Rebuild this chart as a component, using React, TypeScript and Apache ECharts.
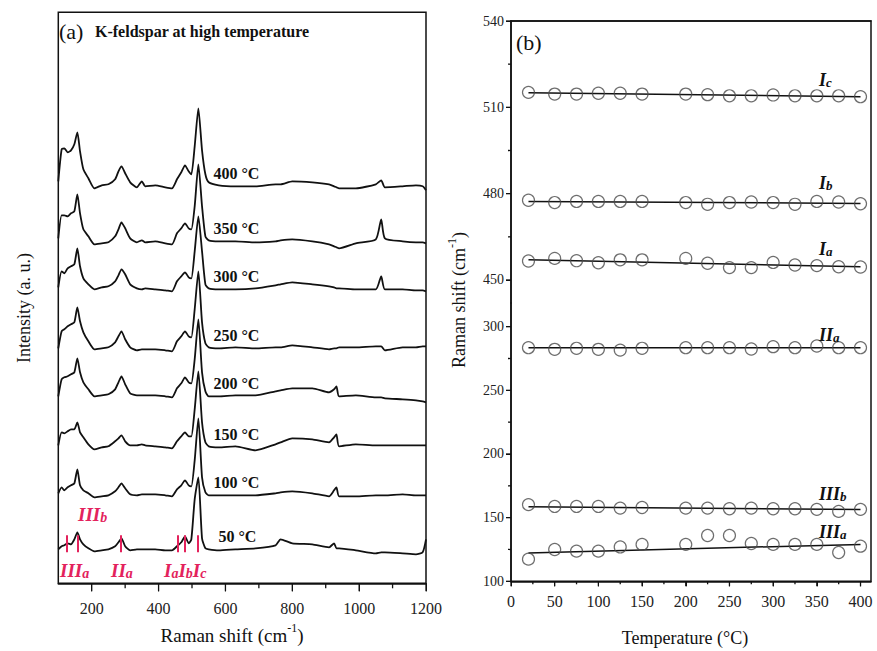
import React, { useEffect, useRef } from 'react';
import * as echarts from 'echarts';

// ---------- Panel (a): Raman spectra ----------
const wavenumbers = [100, 110, 118, 128, 138, 148, 157, 165, 175, 190, 208, 230, 250, 270, 280, 289, 300, 315, 335, 350, 360, 390, 420, 440, 455, 468, 479, 490, 498, 508, 519, 530, 540, 550, 580, 630, 690, 750, 765, 800, 860, 910, 925, 932, 940, 990, 1050, 1066, 1077, 1130, 1170, 1190, 1200];

const temperatureLabels = ['400 °C', '350 °C', '300 °C', '250 °C', '200 °C', '150 °C', '100 °C', '50 °C'];
const spectrumOffsets = [397, 342, 294, 235, 187, 136, 88, 34];
const labelWavenumbers = [564, 564, 564, 564, 564, 564, 564, 579];

const spectrum400 = [5, 37, 38, 34, 36, 42, 54, 35, 17, 8, -2, 1, 2, 7, 15, 20, 13, 4, -1, 5, 0, 1, -1, -2, 7, 14, 21, 15, 12, 40, 78, 36, 12, 4, 1, 0, 0, 2, 2, 5, 4, 2, 0, -1, -2, -2, 2, 6, -1, 0, 1, 0, -4];
const spectrum350 = [3, 26, 26, 25, 28, 30, 47, 28, 12, 5, -3, -2, -1, 5, 12, 19, 13, 3, -1, 1, -1, 0, -2, -3, 8, 13, 18, 13, 12, 35, 77, 35, 5, 1, 0, 0, -1, 0, 1, 2, 0, -3, -5, -6, -7, -2, 2, 22, 3, 0, -1, -1, -2];
const spectrum300 = [2, 18, 16, 21, 23, 25, 41, 23, 11, 5, 0, 2, 3, 8, 14, 20, 15, 5, 1, 0, 1, 0, -1, -2, 8, 13, 17, 12, 11, 38, 73, 38, 5, 1, 0, 0, 1, 4, 5, 7, 5, 3, 2, 1, 1, 0, 0, 13, 0, 0, -1, -1, -2];
const spectrum250 = [0, 17, 19, 22, 24, 26, 41, 27, 16, 7, -1, 0, 1, 6, 12, 17, 9, 1, -2, -1, -1, -1, -2, -3, 7, 12, 17, 12, 11, 39, 77, 26, 5, 1, 0, 1, 0, 1, 1, 3, 1, -1, 0, 0, 1, 1, 2, 2, -2, 1, 1, 2, 2];
const spectrum200 = [0, 17, 19, 20, 22, 24, 38, 24, 14, 7, 0, 1, 2, 7, 14, 20, 12, 3, 1, 1, 1, 1, 0, -1, 8, 13, 19, 14, 13, 37, 77, 24, 5, 0, 0, 1, 1, 5, 6, 8, 8, 4, 7, 10, 0, 1, -1, -1, -2, -3, -4, -5, -6];
const spectrum150 = [2, 15, 14, 16, 18, 18, 25, 15, 10, 3, -2, 0, 1, 6, 9, 12, 6, 2, 2, 3, 2, 1, 0, -1, 6, 11, 15, 11, 11, 38, 76, 25, 5, 1, 0, 1, -3, 3, 5, 9, 8, 5, 10, 13, 1, 3, 2, 2, 2, 2, 2, 2, 2];
const spectrum100 = [2, 8, 5, 8, 10, 12, 26, 10, 5, 2, -2, -1, 0, 4, 8, 12, 7, 1, 0, 1, 1, 1, 0, -1, 6, 10, 15, 10, 9, 35, 77, 18, 3, 0, 0, 0, 0, 2, 3, 4, 2, -1, 5, 8, -1, -1, 0, 0, 0, 1, 0, 0, 0];
const spectrum50 = [0, 3, 4, 6, 5, 10, 17, 10, 5, 1, -2, -1, 0, 3, 7, 11, 3, -1, 0, 0, 0, 0, -1, -1, 3, 7, 13, 6, 10, 50, 72, 11, 1, 0, -1, 0, 1, 4, 10, 6, 5, 2, 6, 1, 1, -1, -4, -3, -3, -4, -5, -3, 10];
const spectra = [spectrum400, spectrum350, spectrum300, spectrum250, spectrum200, spectrum150, spectrum100, spectrum50];

// Assigned mode positions marked on the 50 °C spectrum
const modePositions50 = [126, 159, 287, 457, 477, 517];

const xTicksA = [200, 400, 600, 800, 1000, 1200];
const xMinorA = [300, 500, 700, 900, 1100];

// ---------- Panel (b): peak positions vs temperature ----------
const temperatures = [20, 50, 75, 100, 125, 150, 200, 225, 250, 275, 300, 325, 350, 375, 400];
const peakIc = [515.2, 514.6, 514.6, 514.9, 514.9, 514.6, 514.6, 514.4, 514.0, 514.0, 514.3, 514.0, 514.0, 514.0, 513.7];
const peakIb = [477.7, 476.9, 477.3, 477.3, 477.3, 477.3, 476.9, 476.3, 476.9, 477.1, 476.9, 476.3, 477.3, 477.1, 476.5];
const peakIa = [456.6, 457.5, 456.7, 456.0, 457.0, 457.0, 457.5, 455.8, 454.3, 454.3, 456.1, 455.2, 455.0, 454.6, 454.5];
const peakIIa = [283.5, 282.2, 283.0, 282.2, 281.6, 283.0, 283.5, 283.5, 283.5, 282.5, 284.3, 283.5, 284.8, 283.5, 283.5];
const peakIIIb = [160.2, 158.8, 158.8, 158.8, 157.5, 158.0, 157.5, 157.5, 157.0, 157.5, 157.0, 157.0, 156.5, 154.9, 156.5];
const peakIIIa = [117.4, 125.0, 123.7, 123.7, 127.0, 129.0, 129.0, 136.0, 136.0, 129.7, 129.0, 129.0, 129.0, 122.6, 127.6];

const fitTemps = [20, 400];
const fitIc = [515.1, 513.7];
const fitIb = [477.3, 476.6];
const fitIa = [457.0, 454.6];
const fitIIa = [283.5, 283.5];
const fitIIIb = [158.6, 156.4];
const fitIIIa = [122.3, 129.0];

const xTicksB = [0, 50, 100, 150, 200, 250, 300, 350, 400];
const xMinorB = [25, 75, 125, 175, 225, 275, 325, 375];
const yTicksUpper = [450, 480, 510, 540];
const yMinorUpper = [465, 495, 525];
const yTicksLower = [100, 150, 200, 250, 300];
const yMinorLower = [125, 175, 225, 275];

// ---------- layout ----------
const GA = { left: 58.3, top: 12.3, width: 367.7, height: 571 };
const GB1 = { left: 511, top: 21, width: 360, height: 282 };
const GB2 = { left: 511, top: 303, width: 360, height: 278.3 };
const A_X = [100, 1200];
const A_Y = [0, 571];
const B_X = [0, 412];
const B1_Y = [442, 540];
const B2_Y = [100, 318.6];

const serif = '"Liberation Serif", "Times New Roman", serif';
const black = '#111';
const red = '#e3225c';

function subText(x: number, y: number, parts: [string, string][], color: string, size: number) {
  const text = parts.map(([m, s]) => `{m|${m}}{s|${s}}`).join('');
  const ss = Math.round(size * 0.72);
  return {
    type: 'text',
    x,
    y,
    z: 50,
    style: {
      text,
      align: 'left',
      verticalAlign: 'top',
      rich: {
        m: { fontFamily: serif, fontSize: size, fontWeight: 'bold', fontStyle: 'italic', fill: color, lineHeight: size, verticalAlign: 'top' },
        s: { fontFamily: serif, fontSize: ss, fontWeight: 'bold', fontStyle: 'italic', fill: color, lineHeight: ss, padding: [Math.round(size * 0.45), 0, 0, 0], verticalAlign: 'bottom' },
      },
    },
  };
}

function ramanTitle(x: number, y: number, rotation: number, size: number) {
  return {
    type: 'text',
    x,
    y,
    rotation,
    z: 50,
    style: {
      text: '{n|Raman shift (cm}{p|-1}{n|)}',
      align: 'center',
      verticalAlign: 'middle',
      rich: {
        n: { fontFamily: serif, fontSize: size, fill: black, lineHeight: size + 4, verticalAlign: 'bottom' },
        p: { fontFamily: serif, fontSize: Math.round(size * 0.65), fill: black, lineHeight: Math.round(size * 0.65), verticalAlign: 'top' },
      },
    },
  };
}

function plainText(x: number, y: number, text: string, size: number, opts: any = {}) {
  return {
    type: 'text',
    x,
    y,
    rotation: opts.rotation || 0,
    z: 50,
    style: {
      text,
      fontFamily: serif,
      fontSize: size,
      fontWeight: opts.bold ? 'bold' : 'normal',
      fill: black,
      align: opts.align || 'left',
      verticalAlign: opts.valign || 'middle',
    },
  };
}

function tickRect(x: number, y: number, w: number, h: number) {
  return { type: 'rect', z: 40, silent: true, shape: { x, y, width: w, height: h }, style: { fill: black } };
}

type AxisOpts = {
  gridIndex: number;
  range: number[];
  position?: string;
  line?: boolean;
  ticks?: number[];
  tickLen?: number;
  labels?: number[];
  labelSize?: number;
  labelMargin?: number;
};

function makeAxis(o: AxisOpts) {
  const ax: any = {
    type: 'value',
    gridIndex: o.gridIndex,
    min: o.range[0],
    max: o.range[1],
    splitLine: { show: false },
    axisLine: { show: !!o.line, onZero: false, lineStyle: { color: '#111', width: 1.5 } },
    axisTick: o.ticks ? { show: true, customValues: o.ticks.slice(), length: o.tickLen || 5 } : { show: false },
    axisLabel: o.labels
      ? {
          show: true,
          customValues: o.labels.slice(),
          formatter: (v: number) => String(v),
          fontFamily: serif,
          fontSize: o.labelSize || 14,
          color: '#222',
          margin: o.labelMargin || 8,
        }
      : { show: false },
  };
  if (o.position) ax.position = o.position;
  return ax;
}

function tickGraphics(): any[] {
  const out: any[] = [];
  const ax = (v: number) => GA.left + ((v - A_X[0]) / (A_X[1] - A_X[0])) * GA.width;
  const aBottom = GA.top + GA.height;
  xTicksA.forEach((v) => out.push(tickRect(ax(v) - 0.65, aBottom, 1.3, 8)));
  xMinorA.forEach((v) => out.push(tickRect(ax(v) - 0.65, aBottom, 1.3, 5)));

  const bx = (v: number) => GB2.left + ((v - B_X[0]) / (B_X[1] - B_X[0])) * GB2.width;
  const bBottom = GB2.top + GB2.height;
  xTicksB.forEach((v) => out.push(tickRect(bx(v) - 0.65, bBottom, 1.3, 5)));
  xMinorB.forEach((v) => out.push(tickRect(bx(v) - 0.65, bBottom, 1.3, 3)));

  const by1 = (v: number) => GB1.top + ((B1_Y[1] - v) / (B1_Y[1] - B1_Y[0])) * GB1.height;
  const by2 = (v: number) => GB2.top + ((B2_Y[1] - v) / (B2_Y[1] - B2_Y[0])) * GB2.height;
  const L = GB1.left;
  yTicksUpper.forEach((v) => out.push(tickRect(L - 5, by1(v) - 0.65, 5, 1.3)));
  yMinorUpper.forEach((v) => out.push(tickRect(L - 3, by1(v) - 0.65, 3, 1.3)));
  yTicksLower.forEach((v) => out.push(tickRect(L - 5, by2(v) - 0.65, 5, 1.3)));
  yMinorLower.forEach((v) => out.push(tickRect(L - 3, by2(v) - 0.65, 3, 1.3)));
  return out;
}

function buildOption() {
  const xAxis = [
    makeAxis({ gridIndex: 0, range: A_X, position: 'bottom', line: true, ticks: xTicksA, tickLen: 8, labels: xTicksA, labelSize: 16, labelMargin: 17 }),
    makeAxis({ gridIndex: 1, range: B_X, position: 'top', line: true }),
    makeAxis({ gridIndex: 2, range: B_X, position: 'bottom', line: true, ticks: xTicksB, tickLen: 5, labels: xTicksB, labelSize: 16, labelMargin: 12 }),
    { type: 'value', gridIndex: 3, min: 0, max: 1, show: false },
  ];

  const yAxis = [
    makeAxis({ gridIndex: 0, range: A_Y }),
    makeAxis({ gridIndex: 1, range: B1_Y, position: 'left', line: true, ticks: yTicksUpper, tickLen: 5, labels: yTicksUpper, labelSize: 14, labelMargin: 7 }),
    makeAxis({ gridIndex: 2, range: B2_Y, position: 'left', line: true, ticks: yTicksLower, tickLen: 5, labels: yTicksLower, labelSize: 14, labelMargin: 7 }),
    { type: 'value', gridIndex: 3, min: 0, max: 1, show: false },
  ];

  const series: any[] = [];

  spectra.forEach((s, k) => {
    const off = spectrumOffsets[k];
    const ser: any = {
      type: 'line',
      name: temperatureLabels[k],
      xAxisIndex: 0,
      yAxisIndex: 0,
      data: wavenumbers.map((w, i) => [w, s[i] + off]),
      showSymbol: false,
      symbol: 'none',
      smooth: 0.2,
      clip: false,
      lineStyle: { color: black, width: 1.8 },
      z: 3,
      markPoint: {
        symbol: 'circle',
        symbolSize: 0,
        silent: true,
        data: [
          {
            coord: [labelWavenumbers[k], off + 13],
            label: {
              show: true,
              position: 'right',
              distance: 0,
              formatter: temperatureLabels[k],
              fontFamily: serif,
              fontWeight: 'bold',
              fontSize: 16,
              color: black,
            },
          },
        ],
      },
    };
    if (k === spectra.length - 1) {
      ser.markLine = {
        silent: true,
        symbol: ['none', 'none'],
        label: { show: false },
        lineStyle: { color: red, width: 2, type: 'solid' },
        data: modePositions50.map((w) => [{ coord: [w, off - 3] }, { coord: [w, off + 14] }]),
      };
    }
    series.push(ser);
  });

  const peaks: [number[], number[], number, number][] = [
    [peakIc, fitIc, 1, 1],
    [peakIb, fitIb, 1, 1],
    [peakIa, fitIa, 1, 1],
    [peakIIa, fitIIa, 2, 2],
    [peakIIIb, fitIIIb, 2, 2],
    [peakIIIa, fitIIIa, 2, 2],
  ];
  peaks.forEach(([vals, fit, xi, yi]) => {
    series.push({
      type: 'line',
      xAxisIndex: xi,
      yAxisIndex: yi,
      data: fitTemps.map((t, i) => [t, fit[i]]),
      symbol: 'none',
      clip: false,
      lineStyle: { color: black, width: 1.5 },
      z: 2,
    });
    series.push({
      type: 'scatter',
      xAxisIndex: xi,
      yAxisIndex: yi,
      data: temperatures.map((t, i) => [t, vals[i]]),
      symbol: 'circle',
      symbolSize: 12,
      clip: false,
      itemStyle: { color: 'rgba(0,0,0,0)', borderColor: '#4a4a4a', borderWidth: 1.2 },
      z: 3,
    });
  });

  const graphic: any[] = [
    plainText(59, 31, '(a)', 22),
    plainText(95, 31, 'K-feldspar at high temperature', 16, { bold: true }),
    plainText(516, 42, '(b)', 22),
    plainText(24, 308, 'Intensity (a. u.)', 18, { rotation: Math.PI / 2, align: 'center' }),
    ramanTitle(232, 633, 0, 19),
    ramanTitle(457, 300, Math.PI / 2, 18),
    plainText(685, 638, 'Temperature (°C)', 18, { align: 'center' }),
    subText(78, 505, [['III', 'b']], red, 19),
    subText(60, 561, [['III', 'a']], red, 19),
    subText(111, 561, [['II', 'a']], red, 19),
    subText(164, 561, [['I', 'a'], ['I', 'b'], ['I', 'c']], red, 19),
    subText(819, 71, [['I', 'c']], black, 18),
    subText(819, 174, [['I', 'b']], black, 18),
    subText(819, 240, [['I', 'a']], black, 18),
    subText(819, 326, [['II', 'a']], black, 18),
    subText(819, 485, [['III', 'b']], black, 18),
    subText(819, 523, [['III', 'a']], black, 18),
  ].concat(tickGraphics());

  return {
    animation: false,
    grid: [
      Object.assign({ show: true, borderColor: black, borderWidth: 1.5, backgroundColor: 'transparent' }, GA),
      Object.assign({}, GB1),
      Object.assign({}, GB2),
      // frame of panel (b), spanning both parts of the broken axis
      { left: GB1.left, top: GB1.top, width: GB1.width, height: GB2.top + GB2.height - GB1.top, show: true, borderColor: black, borderWidth: 1.5, backgroundColor: 'transparent' },
    ],
    xAxis,
    yAxis,
    series,
    graphic,
  };
}

export default function App() {
  const ref = useRef<HTMLDivElement>(null);
  useEffect(() => {
    const chart = echarts.init(ref.current!, null, { renderer: 'svg' });
    chart.setOption(buildOption() as any);
    return () => chart.dispose();
  }, []);
  return <div ref={ref} style={{ position: 'fixed', left: 0, top: 0, width: 877, height: 651, background: '#fff' }} />;
}
